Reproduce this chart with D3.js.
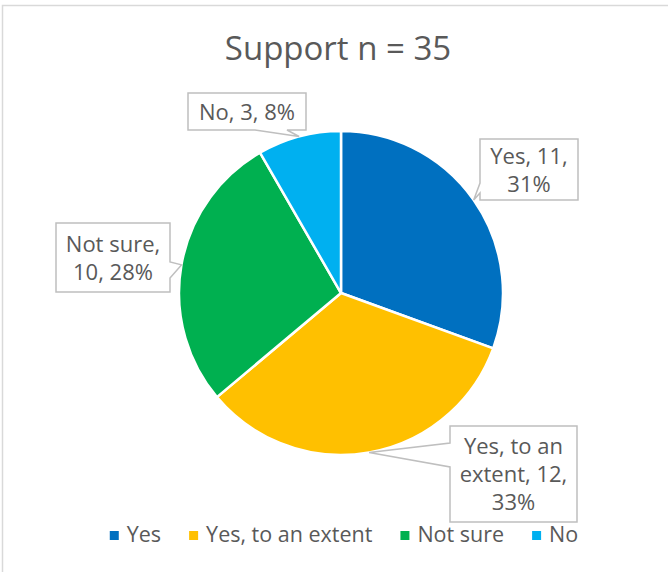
<!DOCTYPE html>
<html>
<head>
<meta charset="utf-8">
<script src="https://cdn.jsdelivr.net/npm/d3@7/dist/d3.min.js"></script>
<style>
  body { margin: 0; background: #fff; }
  text { font-family: "Open Sans", Roboto, sans-serif; fill: #595959; }
</style>
</head>
<body>
<script>
// data
const categories = ["Yes", "Yes, to an extent", "Not sure", "No"];
const counts = [11, 12, 10, 3];
const colors = ["#0070C0", "#FFC000", "#00B050", "#00B0F0"];
const titleText = "Support n = 35";

const w = 668,
      h = 572;
const cx = 341, cy = 293, r = 162;

// callout boxes (layout only): box, side the pointer leaves from, pointer base, words per line
const callouts = [
  {x: 480, y: 139, w: 98,  h: 61, side: "left",   b0: 44, b1: 54, lines: [2, 1]},
  {x: 450, y: 426, w: 127, h: 96, side: "left",   b0: 17, b1: 41, lines: [3, 2, 1]},
  {x: 56,  y: 223, w: 114, h: 69, side: "right",  b0: 39, b1: 55, lines: [2, 2]},
  {x: 188, y: 93,  w: 118, h: 37, side: "bottom", b0: 67, b1: 99, lines: [3]}
];

const svg = d3.select("body")
              .append("svg")
              .attr("width", w)
              .attr("height", h);

// chart area border
svg.append("rect")
   .attr("x", 2.5)
   .attr("y", 5.5)
   .attr("width", w + 20)
   .attr("height", h + 20)
   .attr("fill", "none")
   .attr("stroke", "#d9d9d9")
   .attr("stroke-width", 1.5);

svg.append("text")
   .attr("x", 338)
   .attr("y", 60)
   .attr("text-anchor", "middle")
   .style("font-size", "33px")
   .text(titleText);

const total = d3.sum(counts);
const pie = d3.pie().sort(null).value(d => d);
const arcs = pie(counts);
const arc = d3.arc().innerRadius(0).outerRadius(r);
const edge = d3.arc().innerRadius(r).outerRadius(r);

const chart = svg.append("g")
                 .attr("transform", "translate(" + cx + "," + cy + ")");

chart.selectAll("path")
     .data(arcs)
     .enter()
     .append("path")
     .attr("d", arc)
     .attr("fill", (d, i) => colors[i])
     .attr("stroke", "#fff")
     .attr("stroke-width", 2.5)
     .attr("stroke-linejoin", "round");

//callout labels
const calloutPath = (c, tip) => {
  const x0 = c.x, y0 = c.y, x1 = c.x + c.w, y1 = c.y + c.h;
  let pts;
  if (c.side == "left") {
    pts = [[x0, y0], [x1, y0], [x1, y1], [x0, y1], [x0, y0 + c.b1], tip, [x0, y0 + c.b0]];
  } else if (c.side == "right") {
    pts = [[x0, y0], [x1, y0], [x1, y0 + c.b0], tip, [x1, y0 + c.b1], [x1, y1], [x0, y1]];
  } else {
    pts = [[x0, y0], [x1, y0], [x1, y1], [x0 + c.b1, y1], tip, [x0 + c.b0, y1], [x0, y1]];
  }
  return "M" + pts.map(p => p[0] + "," + p[1]).join("L") + "Z";
};

const labels = svg.append("g");

arcs.forEach((d, i) => {
  const c = callouts[i];
  const t = edge.centroid(d);
  const tip = [cx + t[0], cy + t[1]];
  const pct = Math.round(d.value / total * 100);
  const words = (categories[i] + ", " + d.value + ", " + pct + "%").split(" ");

  labels.append("path")
        .attr("d", calloutPath(c, tip))
        .attr("fill", "#fff")
        .attr("stroke", "#bfbfbf")
        .attr("stroke-width", 1.5);

  const lineH = 28;
  let k = 0;
  const rows = c.lines.map(n => { const s = words.slice(k, k + n).join(" "); k += n; return s; });
  const midY = c.y + c.h / 2;
  rows.forEach((s, j) => {
    labels.append("text")
          .attr("x", c.x + c.w / 2)
          .attr("y", midY - (rows.length - 1) * lineH / 2 + j * lineH + 8)
          .attr("text-anchor", "middle")
          .style("font-size", "22px")
          .text(s);
  });
});

// legend
const legend = svg.append("g");
let lx = 0;
categories.forEach((name, i) => {
  const item = legend.append("g").attr("transform", "translate(" + lx + ",0)");
  item.append("rect")
      .attr("x", 0)
      .attr("y", -11)
      .attr("width", 9)
      .attr("height", 9)
      .attr("fill", colors[i]);
  const txt = item.append("text")
      .attr("x", 17)
      .attr("y", 0)
      .style("font-size", "21.5px")
      .text(name);
  lx += 17 + txt.node().getComputedTextLength() + 28;
});
const legendW = lx - 28;
legend.attr("transform", "translate(" + (344 - legendW / 2) + ",542)");
</script>
</body>
</html>
